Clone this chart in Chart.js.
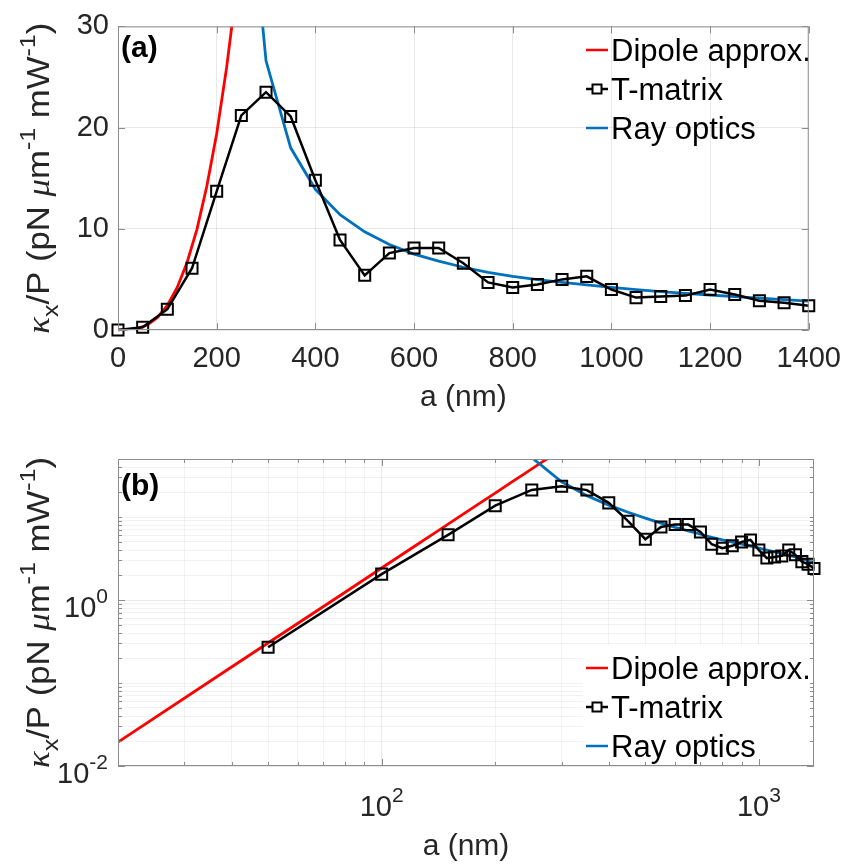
<!DOCTYPE html>
<html lang="en">
<head>
  <meta charset="UTF-8" />
  <title>kappa_x / P versus a</title>
  <style>
    body { margin: 0; background: #fff; }
    .panel { position: absolute; left: 0; width: 853px; }
    #topBox { top: 0; height: 430px; }
    #botBox { top: 430px; height: 435px; }
  </style>
</head>
<body>
  <div id="topBox" class="panel"><canvas id="chartA"></canvas></div>
  <div id="botBox" class="panel"><canvas id="chartB"></canvas></div>

  <script src="https://cdn.jsdelivr.net/npm/chart.js"></script>
  <script>
    // T-matrix, one point every 50 nm
    const tmA = [0, 50, 100, 150, 200, 250, 300, 350, 400, 450, 500, 550, 600, 650, 700,
                 750, 800, 850, 900, 950, 1000, 1050, 1100, 1150, 1200, 1250, 1300, 1350, 1400];
    const tmK = [0, 0.27, 2.05, 6.1, 13.7, 21.2, 23.5, 21.1, 14.8, 8.9, 5.4, 7.6, 8.1, 8.1, 6.6,
                 4.7, 4.2, 4.5, 5.0, 5.3, 4.0, 3.2, 3.3, 3.4, 4.0, 3.5, 2.9, 2.7, 2.4];

    // dipole approximation
    const dipA = [0, 20, 40, 60, 80, 100, 120, 140, 160, 180, 200, 220, 240, 260, 280];
    const dipK = [0, 0.0194, 0.156, 0.525, 1.24, 2.43, 4.2, 6.67, 9.95, 14.2, 19.4, 25.9, 33.6, 42.7, 53.3];

    // ray optics
    const rayA = [250, 300, 350, 400, 450, 500, 550, 600, 650, 700, 750, 800, 850, 900,
                  950, 1000, 1050, 1100, 1150, 1200, 1250, 1300, 1350, 1400];
    const rayK = [52, 26.6, 18.0, 13.9, 11.4, 9.7, 8.45, 7.5, 6.8, 6.2, 5.7, 5.3, 4.98, 4.7,
                  4.45, 4.22, 4.0, 3.8, 3.62, 3.46, 3.3, 3.15, 3.0, 2.85];

    // axis ticks
    const linXTicks = [0, 200, 400, 600, 800, 1000, 1200, 1400];
    const linYTicks = [0, 10, 20, 30];
    const logXTicks = [100, 1000];
    const logYTicks = [0.01, 1];
    const logXExp = ['2', '3'];
    const logYExp = ['-2', '0'];

    const names = ['Dipole approx.', 'T-matrix', 'Ray optics'];
    const RED = '#ff0000', BLUE = '#0072bd', BLACK = '#000000';
    const TXT = '#262626';
    const FONT = '"Liberation Sans", Arial, sans-serif';

    const pts = (xs, ys) => xs.map((x, i) => ({ x: x, y: ys[i] }));

    // minor grid values for the log axes
    function decades(lo, hi, from, to) {
      const out = [];
      for (let d = from; d <= to; d++) {
        for (let m = 1; m <= 9; m++) {
          const v = Number((m * Math.pow(10, d)).toPrecision(3));
          if (v >= lo && v <= hi) out.push(v);
        }
      }
      return out;
    }
    const logXGrid = decades(20, 1400, 1, 3);
    const logYGrid = decades(0.01, 50, -2, 1);

    function drawRich(ctx, parts, cx, cy, size, stretch) {
      let w = 0;
      const items = parts.map(p => {
        const fs = p.s ? size * 0.72 : size;
        const fam = p.i ? '"Liberation Serif", serif' : FONT;
        const font = (p.i ? 'italic ' : '') + fs + 'px ' + fam;
        ctx.font = font;
        const pw = ctx.measureText(p.t).width;
        w += pw;
        return { t: p.t, font: font, w: pw, dy: p.s === 'sup' ? -size * 0.44 : (p.s === 'sub' ? size * 0.3 : 0) };
      });
      ctx.save();
      ctx.translate(cx, cy);
      ctx.rotate(-Math.PI / 2);
      ctx.scale(stretch, 1);
      ctx.textAlign = 'left';
      ctx.textBaseline = 'alphabetic';
      ctx.fillStyle = TXT;
      let x = -w / 2;
      items.forEach(it => { ctx.font = it.font; ctx.fillText(it.t, x, it.dy); x += it.w; });
      ctx.restore();
    }

    // "10" with a raised exponent
    function drawPow(ctx, exp, x, base, align) {
      ctx.save();
      ctx.fillStyle = TXT;
      ctx.textBaseline = 'alphabetic';
      ctx.textAlign = 'left';
      ctx.font = '29px ' + FONT;
      const w1 = ctx.measureText('10').width;
      ctx.font = '21px ' + FONT;
      const w2 = ctx.measureText(exp).width;
      const left = align === 'center' ? x - (w1 + w2) / 2 : x - (w1 + w2);
      ctx.font = '29px ' + FONT;
      ctx.fillText('10', left, base);
      ctx.font = '21px ' + FONT;
      ctx.fillText(exp, left + w1, base - 14);
      ctx.restore();
    }

    const yTitle = [
      { t: 'κ', i: true }, { t: 'x', s: 'sub' }, { t: '/P (pN ' }, { t: 'μ', i: true },
      { t: 'm' }, { t: '-1', s: 'sup' }, { t: ' mW' }, { t: '-1', s: 'sup' }, { t: ')' }
    ];

    // box, inner ticks, panel label, legend, log tick labels and y title
    const framePlugin = {
      id: 'frame',
      afterDraw(chart, args, o) {
        const ctx = chart.ctx;
        const a = chart.chartArea;
        const sx = chart.scales.x, sy = chart.scales.y;
        ctx.save();

        // legend
        if (o.legendBg) {
          ctx.fillStyle = '#ffffff';
          ctx.fillRect(o.legendBg[0], o.legendBg[1], a.right - o.legendBg[0], a.bottom - o.legendBg[1]);
        }
        const colors = [RED, BLACK, BLUE];
        names.forEach((n, i) => {
          const y = o.legendY + i * 39;
          ctx.strokeStyle = colors[i];
          ctx.lineWidth = 2.5;
          ctx.beginPath(); ctx.moveTo(586, y); ctx.lineTo(608, y); ctx.stroke();
          if (i === 1) {
            ctx.lineWidth = 2;
            ctx.fillStyle = '#fff';
            ctx.fillRect(592.5, y - 4.5, 9, 9);
            ctx.strokeRect(592.5, y - 4.5, 9, 9);
          }
          ctx.fillStyle = BLACK;
          ctx.font = '31px ' + FONT;
          ctx.textAlign = 'left';
          ctx.textBaseline = 'middle';
          ctx.fillText(n, 611, y + 2);
        });

        // box and inner ticks
        ctx.strokeStyle = '#8c8c8c';
        ctx.lineWidth = 1;
        ctx.strokeRect(a.left + 0.5, a.top + 0.5, a.right - a.left - 1, a.bottom - a.top - 1);
        const tick = (vals, len, horiz) => vals.forEach(v => {
          if (horiz) {
            const p = Math.round(sx.getPixelForValue(v)) + 0.5;
            ctx.beginPath();
            ctx.moveTo(p, a.bottom); ctx.lineTo(p, a.bottom - len);
            ctx.moveTo(p, a.top); ctx.lineTo(p, a.top + len);
            ctx.stroke();
          } else {
            const p = Math.round(sy.getPixelForValue(v)) + 0.5;
            ctx.beginPath();
            ctx.moveTo(a.left, p); ctx.lineTo(a.left + len, p);
            ctx.moveTo(a.right, p); ctx.lineTo(a.right - len, p);
            ctx.stroke();
          }
        });
        tick(o.xMajor, 7, true);
        tick(o.yMajor, 7, false);
        if (o.xMinor) tick(o.xMinor, 4, true);
        if (o.yMinor) tick(o.yMinor, 4, false);

        // log tick labels
        if (o.logLabels) {
          logXTicks.forEach((v, i) => drawPow(ctx, logXExp[i], sx.getPixelForValue(v), a.bottom + 50, 'center'));
          logYTicks.forEach((v, i) => drawPow(ctx, logYExp[i], a.left - 10, sy.getPixelForValue(v) + 17, 'right'));
        }

        // panel label
        ctx.fillStyle = BLACK;
        ctx.font = 'bold 30px ' + FONT;
        ctx.textAlign = 'left';
        ctx.textBaseline = 'middle';
        ctx.fillText(o.label, 121, o.labelY);
        ctx.restore();

        drawRich(ctx, yTitle, 49, (a.top + a.bottom) / 2, 31, 1.12);
      }
    };
    Chart.register(framePlugin);

    const tickFont = { family: FONT, size: 29 };
    const gridMajor = 'rgba(0,0,0,0.085)';
    const gridMinor = 'rgba(0,0,0,0.05)';

    const tmStyle = {
      borderColor: BLACK, borderWidth: 2.5, pointStyle: 'rect', pointRadius: 7.8, clip: false,
      pointBorderWidth: 2, pointBackgroundColor: 'rgba(0,0,0,0)', pointBorderColor: BLACK, order: 0
    };
    const lineStyle = (c) => ({ borderColor: c, borderWidth: 2.8, pointRadius: 0 });

    // (a) linear axes
    new Chart(document.getElementById('chartA'), {
      type: 'line',
      data: {
        datasets: [
          Object.assign({ label: names[0], data: pts(dipA, dipK), order: 2 }, lineStyle(RED)),
          Object.assign({ label: names[1], data: pts(tmA, tmK) }, tmStyle),
          Object.assign({ label: names[2], data: pts(rayA, rayK), order: 1 }, lineStyle(BLUE))
        ]
      },
      options: {
        responsive: true,
        maintainAspectRatio: false,
        animation: false,
        layout: { padding: { top: 23, right: 39, left: 0, bottom: 0 } },
        plugins: {
          legend: { display: false },
          tooltip: { enabled: false },
          frame: { label: '(a)', labelY: 49, legendY: 50, xMajor: linXTicks, yMajor: linYTicks }
        },
        scales: {
          x: {
            type: 'linear', min: 0, max: 1400,
            afterBuildTicks: s => { s.ticks = linXTicks.map(v => ({ value: v })); },
            afterFit: s => { s.height = 100; },
            ticks: { font: tickFont, color: TXT, padding: 12, maxRotation: 0, autoSkip: false, callback: v => String(v) },
            grid: { color: gridMajor, drawTicks: false },
            border: { display: false },
            title: { display: true, text: 'a (nm)', font: { family: FONT, size: 30 }, color: TXT, padding: { top: 0, bottom: 14 } }
          },
          y: {
            type: 'linear', min: 0, max: 30,
            afterBuildTicks: s => { s.ticks = linYTicks.map(v => ({ value: v })); },
            afterFit: s => { s.width = 118; },
            ticks: { font: tickFont, color: TXT, padding: 9, callback: v => String(v) },
            grid: { color: gridMajor, drawTicks: false },
            border: { display: false }
          }
        }
      }
    });

    // (b) log-log axes
    new Chart(document.getElementById('chartB'), {
      type: 'line',
      data: {
        datasets: [
          Object.assign({ label: names[0], data: pts(dipA.slice(1), dipK.slice(1)), order: 2 }, lineStyle(RED)),
          Object.assign({ label: names[1], data: pts(tmA.slice(1), tmK.slice(1)) }, tmStyle),
          Object.assign({ label: names[2], data: pts(rayA, rayK), order: 1 }, lineStyle(BLUE))
        ]
      },
      options: {
        responsive: true,
        maintainAspectRatio: false,
        animation: false,
        layout: { padding: { top: 29, right: 39, left: 0, bottom: 0 } },
        plugins: {
          legend: { display: false },
          tooltip: { enabled: false },
          frame: {
            label: '(b)', labelY: 57, legendY: 238, legendBg: [583, 215], logLabels: true,
            xMajor: logXTicks, yMajor: logYTicks, xMinor: logXGrid, yMinor: logYGrid
          }
        },
        scales: {
          x: {
            type: 'logarithmic', min: 20, max: 1400,
            afterBuildTicks: s => { s.ticks = logXGrid.map(v => ({ value: v })); },
            afterFit: s => { s.height = 99; },
            ticks: { display: false },
            grid: { color: c => logXTicks.includes(c.tick.value) ? gridMajor : gridMinor, drawTicks: false },
            border: { display: false },
            title: { display: true, text: 'a (nm)', font: { family: FONT, size: 30 }, color: TXT, padding: { top: 0, bottom: 0 } }
          },
          y: {
            type: 'logarithmic', min: 0.01, max: 50,
            afterBuildTicks: s => { s.ticks = logYGrid.map(v => ({ value: v })); },
            afterFit: s => { s.width = 118; },
            ticks: { display: false },
            grid: { color: c => logYTicks.includes(c.tick.value) ? gridMajor : gridMinor, drawTicks: false },
            border: { display: false }
          }
        }
      }
    });
  </script>
</body>
</html>
